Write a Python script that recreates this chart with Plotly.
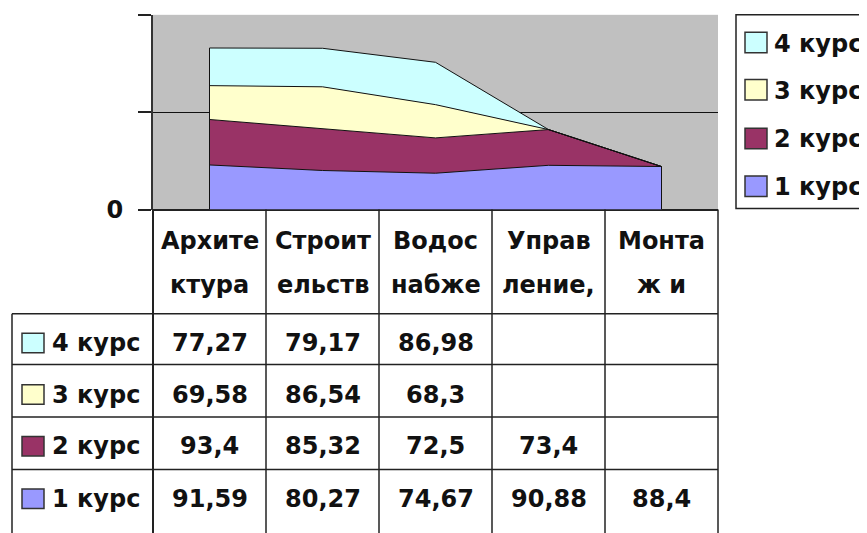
import plotly.graph_objects as go

# ---------------- data ----------------
cat_line1 = ["Архите", "Строит", "Водос", "Управ", "Монта"]
cat_line2 = ["ктура", "ельств", "набже", "ление,", "ж и"]
series_names = ["1 курс", "2 курс", "3 курс", "4 курс"]
kurs1 = [91.59, 80.27, 74.67, 90.88, 88.4]
kurs2 = [93.4, 85.32, 72.5, 73.4, None]
kurs3 = [69.58, 86.54, 68.3, None, None]
kurs4 = [77.27, 79.17, 86.98, None, None]
y_tickvals = [0, 200, 400]
y_ticktext = ["0", "", ""]

series_values = [kurs1, kurs2, kurs3, kurs4]
colors = ["#9999FF", "#993366", "#FFFFCC", "#CCFFFF"]

# ---------------- geometry (pixels of the window) ----------------
W, H = 867, 533
OFF = 8            # default page body margin
FW, FH = W, H
PL, PR, PT, PB = 153, 718, 15, 215
n = len(cat_line1)
col_w = (PR - PL) / n
row_edges = [322, 374, 428, 482, 540]   # rows: 4,3,2,1 курс
LBL_L = 12
FONT = dict(family="DejaVu Sans", size=24, color="#111111", weight="bold")
LINE = "#222222"


def fx(p):
    return (p - OFF) / FW


def fy(p):
    return 1 - (p - OFF) / FH


x_idx = list(range(n))

fig = go.Figure()
for name, vals, col in zip(series_names, series_values, colors):
    fig.add_trace(go.Scatter(
        x=x_idx, y=[v if v is not None else 0 for v in vals],
        name=name, mode="lines", stackgroup="one",
        line=dict(color="#111111", width=1), fillcolor=col,
        showlegend=False, hoverinfo="skip"))

# vertical end edges of the stacked area (computed from the data)
totals = [sum((s[i] or 0) for s in series_values) for i in range(n)]
for i in (0, n - 1):
    fig.add_trace(go.Scatter(x=[x_idx[i], x_idx[i]], y=[0, totals[i]], mode="lines",
                             line=dict(color="#111111", width=1), showlegend=False,
                             hoverinfo="skip"))

shapes = []
annotations = []

# table lines
for y in row_edges[:-1]:
    shapes.append(dict(type="line", xref="paper", yref="paper",
                       x0=fx(LBL_L), x1=fx(PR), y0=fy(y), y1=fy(y),
                       line=dict(color=LINE, width=1.5)))
shapes.append(dict(type="line", xref="paper", yref="paper",
                   x0=fx(LBL_L), x1=fx(LBL_L), y0=fy(row_edges[0]), y1=fy(H + 20),
                   line=dict(color=LINE, width=1.5)))
for i in range(n + 1):
    xp = PL + i * col_w
    shapes.append(dict(type="line", xref="paper", yref="paper",
                       x0=fx(xp), x1=fx(xp), y0=fy(PB), y1=fy(H + 20),
                       line=dict(color=LINE, width=2 if i == 0 else 1.5)))

# header row (category names)
for i in range(n):
    xc = PL + (i + 0.5) * col_w
    annotations.append(dict(xref="paper", yref="paper", x=fx(xc), y=fy(247),
                            text=cat_line1[i], showarrow=False, font=FONT,
                            xanchor="center", yanchor="middle"))
    annotations.append(dict(xref="paper", yref="paper", x=fx(xc), y=fy(292),
                            text=cat_line2[i], showarrow=False, font=FONT,
                            xanchor="center", yanchor="middle"))


def fmt(v):
    return "" if v is None else str(v).replace(".", ",")


# data rows: top row is last series
order = list(range(len(series_names)))[::-1]
row_text_y = [352, 405, 458, 512]
for r, si in enumerate(order):
    yc = row_text_y[r]
    shapes.append(dict(type="rect", xref="paper", yref="paper",
                       x0=fx(22), x1=fx(44), y0=fy(yc - 10), y1=fy(yc + 10),
                       fillcolor=colors[si], line=dict(color="#333333", width=1.5)))
    annotations.append(dict(xref="paper", yref="paper", x=fx(50), y=fy(yc),
                            text=series_names[si], showarrow=False, font=FONT,
                            xanchor="left", yanchor="middle"))
    for i in range(n):
        xc = PL + (i + 0.5) * col_w
        annotations.append(dict(xref="paper", yref="paper", x=fx(xc), y=fy(yc),
                                text=fmt(series_values[si][i]), showarrow=False,
                                font=FONT, xanchor="center", yanchor="middle"))

# right legend box
shapes.append(dict(type="rect", xref="paper", yref="paper",
                   x0=fx(736), x1=fx(W + 30), y0=fy(214), y1=fy(15),
                   line=dict(color="#222222", width=1.5), fillcolor="white"))
leg_y = [43.5, 92, 142, 191]
for k, si in enumerate(order):
    yc = leg_y[k]
    shapes.append(dict(type="rect", xref="paper", yref="paper",
                       x0=fx(745), x1=fx(767), y0=fy(yc - 10.5), y1=fy(yc + 10.5),
                       fillcolor=colors[si], line=dict(color="#333333", width=1.5)))
    annotations.append(dict(xref="paper", yref="paper", x=fx(772), y=fy(yc + 1),
                            text=series_names[si], showarrow=False, font=FONT,
                            xanchor="left", yanchor="middle"))

fig.update_layout(
    width=FW, height=FH,
    margin=dict(l=0, r=0, t=0, b=0),
    paper_bgcolor="white",
    plot_bgcolor="#C0C0C0",
    showlegend=False,
    shapes=shapes,
    annotations=annotations,
    xaxis=dict(domain=[fx(PL), fx(PR)], range=[-0.5, n - 0.5],
               showticklabels=False, showgrid=False, zeroline=False,
               ticks="", showline=False, fixedrange=True),
    yaxis=dict(domain=[fy(PB), fy(PT)], range=[0, 400],
               tickvals=y_tickvals, ticktext=y_ticktext,
               ticks="outside", ticklen=13, tickwidth=1.5, tickcolor="#222222",
               ticklabelstandoff=10,
               showgrid=True, gridcolor="#111111", gridwidth=1,
               zeroline=True, zerolinecolor="#222222", zerolinewidth=1.5,
               showline=True, linecolor="#333333", linewidth=2,
               tickfont=FONT, fixedrange=True),
)

fig.write_html("out.html")
